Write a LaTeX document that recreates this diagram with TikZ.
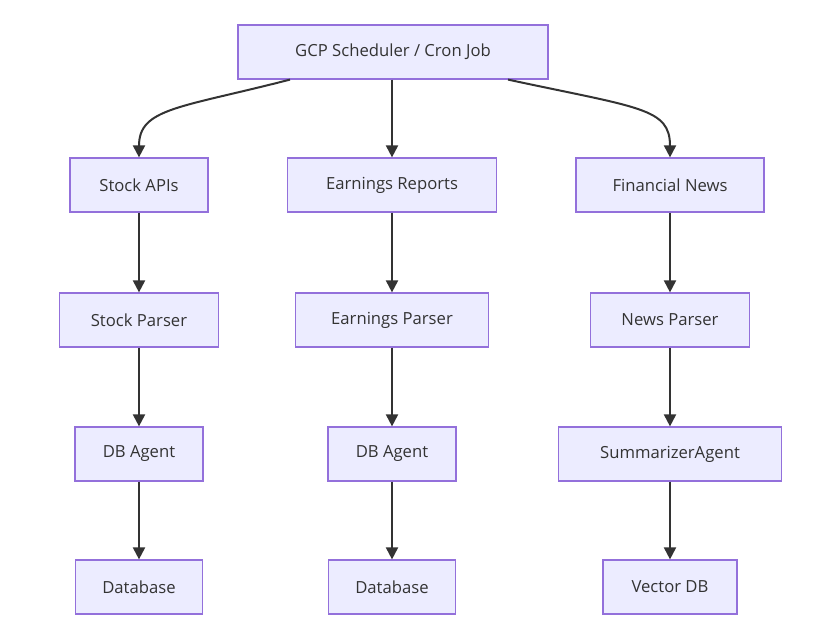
\documentclass[tikz,border=0pt]{standalone}
\usepackage{fontspec}
\setmainfont{Open Sans}
\usetikzlibrary{arrows.meta}
\begin{document}
\begin{tikzpicture}[x=0.75pt,y=-0.75pt,
  box/.style={draw=violet!60!blue!70, draw={rgb,255:red,147;green,112;blue,219}, fill={rgb,255:red,236;green,236;blue,255}, line width=0.9pt, minimum height=40.5pt, inner sep=0pt, font=\fontsize{12.5}{14}\selectfont, text={rgb,255:red,51;green,51;blue,51}},
  arr/.style={draw={rgb,255:red,51;green,51;blue,51}, line width=1.5pt, -{Triangle[length=9pt,width=9pt]}}]
\useasboundingbox (0,0) rectangle (836,639);
\node[box,minimum width=232.5pt] (gcp) at (393,52) {GCP Scheduler / Cron Job};
\node[box,minimum width=103.5pt] (sa) at (139,185) {Stock APIs};
\node[box,minimum width=156.75pt] (er) at (392,185) {Earnings Reports};
\node[box,minimum width=141pt] (fn) at (670,185) {Financial News};
\node[box,minimum width=119.25pt] (sp) at (139,320) {Stock Parser};
\node[box,minimum width=144.75pt] (ep) at (392,320) {Earnings Parser};
\node[box,minimum width=119.25pt] (np) at (670,320) {News Parser};
\node[box,minimum width=96pt] (db1) at (139,454) {DB Agent};
\node[box,minimum width=96pt] (db2) at (392,454) {DB Agent};
\node[box,minimum width=167.25pt] (sum) at (670,454) {SummarizerAgent};
\node[box,minimum width=95.25pt] (d1) at (139,587) {Database};
\node[box,minimum width=95.25pt] (d2) at (392,587) {Database};
\node[box,minimum width=100.5pt] (vdb) at (670,587) {Vector DB};
\draw[arr] ([xshift=-77.25pt]gcp.south) .. controls (180,108) and (139,108) .. (sa.north);
\draw[arr] (gcp.south -| er.north) -- (er.north);
\draw[arr] ([xshift=86.25pt]gcp.south) .. controls (640,108) and (670,108) .. (fn.north);
\draw[arr] (sa) -- (sp);
\draw[arr] (er) -- (ep);
\draw[arr] (fn) -- (np);
\draw[arr] (sp) -- (db1);
\draw[arr] (ep) -- (db2);
\draw[arr] (np) -- (sum);
\draw[arr] (db1) -- (d1);
\draw[arr] (db2) -- (d2);
\draw[arr] (sum) -- (vdb);
\end{tikzpicture}
\end{document}
